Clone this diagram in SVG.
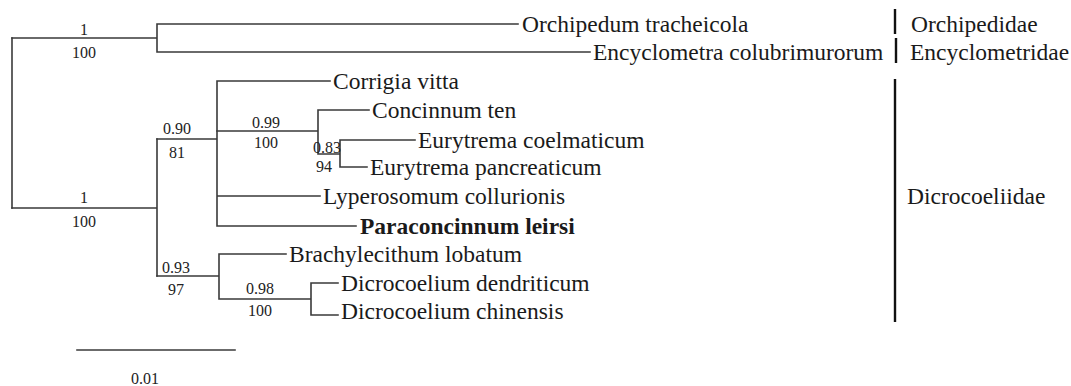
<svg xmlns="http://www.w3.org/2000/svg" width="1071" height="386" viewBox="0 0 1071 386">
<style>
.br{stroke:#3a3a3a;stroke-width:1.6;fill:none;stroke-linecap:square}
.bar{stroke:#111;stroke-width:2.4;fill:none}
.tx{font-family:"Liberation Serif","Times New Roman",serif;font-size:23.5px;fill:#1a1a1a}
.fam{font-family:"Liberation Serif","Times New Roman",serif;font-size:23.5px;fill:#1a1a1a}
.n{font-family:"Liberation Serif","Times New Roman",serif;font-size:16px;fill:#222;text-anchor:middle}
</style>
<rect width="1071" height="386" fill="#fff"/>
<g id="connectors">
<path class="br" d="M12,38V208"/>
<path class="br" d="M12,38H157M157,24V52M157,24H518M157,52H590"/>
<path class="br" d="M12,208H157M157,139V276"/>
<path class="br" d="M157,139H217M217,81V226M217,81H330M217,196H320M217,226H356"/>
<path class="br" d="M217,131H318M318,110V154M318,110H369M318,154H340M340,140V167M340,140H415M340,167H367"/>
<path class="br" d="M157,276H219M219,254V299M219,254H286M219,299H311M311,283V315M311,283H338M311,315H338"/>
</g>
<g id="taxa">
<g id="t1"><text class="tx" x="522" y="32">Orchipedum tracheicola</text></g>
<g id="t2"><text class="tx" x="593" y="60">Encyclometra colubrimurorum</text></g>
<g id="t3"><text class="tx" x="333" y="89">Corrigia vitta</text></g>
<g id="t4"><text class="tx" x="372" y="118">Concinnum ten</text></g>
<g id="t5"><text class="tx" x="418" y="148">Eurytrema coelmaticum</text></g>
<g id="t6"><text class="tx" x="370" y="175">Eurytrema pancreaticum</text></g>
<g id="t7"><text class="tx" x="323" y="204">Lyperosomum collurionis</text></g>
<g id="t8"><text class="tx" x="360" y="234" font-weight="bold">Paraconcinnum leirsi</text></g>
<g id="t9"><text class="tx" x="289" y="262">Brachylecithum lobatum</text></g>
<g id="t10"><text class="tx" x="341" y="291">Dicrocoelium dendriticum</text></g>
<g id="t11"><text class="tx" x="341" y="319">Dicrocoelium chinensis</text></g>
</g>
<g id="support">
<text class="n" x="84" y="35">1</text><text class="n" x="84" y="58">100</text>
<text class="n" x="177" y="134">0.90</text><text class="n" x="177" y="158">81</text>
<text class="n" x="266" y="128">0.99</text><text class="n" x="266" y="148">100</text>
<text class="n" x="327" y="153">0.83</text><text class="n" x="324" y="172">94</text>
<text class="n" x="84" y="203">1</text><text class="n" x="84" y="227">100</text>
<text class="n" x="176" y="273">0.93</text><text class="n" x="176" y="295">97</text>
<text class="n" x="260" y="294">0.98</text><text class="n" x="260" y="316">100</text>
</g>
<g id="families">
<g id="f1"><path class="bar" d="M895,9V34"/><text class="fam" x="911" y="32">Orchipedidae</text></g>
<g id="f2"><path class="bar" d="M896,38V63"/><text class="fam" x="910" y="60">Encyclometridae</text></g>
<g id="f3"><path class="bar" d="M895,79V322"/><text class="fam" x="907" y="204">Dicrocoeliidae</text></g>
</g>
<g id="scale">
<path class="br" d="M77,350H235"/>
<text class="n" x="145" y="384">0.01</text>
</g>
</svg>
